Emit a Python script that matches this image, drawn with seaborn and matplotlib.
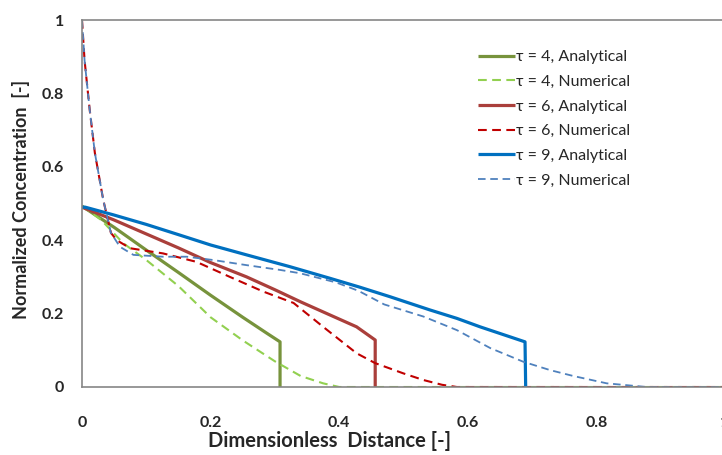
import matplotlib
matplotlib.use("Agg")
import matplotlib.pyplot as plt
import seaborn as sns
import numpy as np
from matplotlib.ticker import MultipleLocator

# ---------------- data ----------------
x4a = [0, 0.005, 0.05, 0.1, 0.15, 0.2, 0.25, 0.287, 0.308, 0.308]
y4a = [0.493, 0.487, 0.435, 0.373, 0.312, 0.25, 0.19, 0.147, 0.123, 0]

x4n = [0, 0.03, 0.064, 0.1, 0.15, 0.2, 0.25, 0.3, 0.34, 0.375, 0.4, 1.0]
y4n = [0.493, 0.455, 0.392, 0.346, 0.275, 0.19, 0.127, 0.07, 0.03, 0.01, 0, 0]

x6a = [0, 0.05, 0.1, 0.15, 0.2, 0.256, 0.3, 0.34, 0.386, 0.427, 0.456, 0.456]
y6a = [0.49, 0.455, 0.417, 0.379, 0.339, 0.30, 0.265, 0.232, 0.196, 0.164, 0.128, 0]

x6n = [0, 0.004, 0.012, 0.02, 0.033, 0.045, 0.054, 0.075, 0.126, 0.178, 0.23,
       0.282, 0.329, 0.375, 0.427, 0.456, 0.5, 0.531, 0.56, 0.583, 1.0]
y6n = [1.0, 0.89, 0.755, 0.638, 0.51, 0.42, 0.40, 0.378, 0.364, 0.341, 0.30,
       0.26, 0.229, 0.164, 0.092, 0.065, 0.037, 0.019, 0.006, 0, 0]

x9a = [0, 0.005, 0.049, 0.1, 0.152, 0.2, 0.256, 0.323, 0.386, 0.432, 0.479,
       0.541, 0.583, 0.619, 0.689, 0.69]
y9a = [0.49, 0.49, 0.469, 0.443, 0.414, 0.387, 0.36, 0.328, 0.296, 0.272, 0.246,
       0.21, 0.187, 0.164, 0.123, 0]

x9n = [0, 0.004, 0.012, 0.02, 0.033, 0.045, 0.059, 0.08, 0.126, 0.163, 0.204,
       0.256, 0.308, 0.339, 0.395, 0.43, 0.47, 0.531, 0.583, 0.635, 0.686,
       0.728, 0.764, 0.816, 0.878, 1.0]
y9n = [1.0, 0.89, 0.755, 0.638, 0.51, 0.42, 0.382, 0.36, 0.355, 0.355, 0.346,
       0.332, 0.319, 0.31, 0.285, 0.262, 0.225, 0.192, 0.155, 0.106, 0.069,
       0.046, 0.03, 0.01, 0, 0]

labels = ["τ = 4, Analytical", "τ = 4, Numerical",
          "τ = 6, Analytical", "τ = 6, Numerical",
          "τ = 9, Analytical", "τ = 9, Numerical"]

x_ticks = [0, 0.2, 0.4, 0.6, 0.8, 1.0]
x_tick_labels = ["0", "0.2", "0.4", "0.6", "0.8", "1"]
y_ticks = [0, 0.2, 0.4, 0.6, 0.8, 1.0]
y_tick_labels = ["0", "0.2", "0.4", "0.6", "0.8", "1"]

# ---------------- style ----------------
sns.set_style("white")
plt.rcParams['font.family'] = ['Lato', 'DejaVu Sans']

fig = plt.figure(figsize=(7.22, 4.55), dpi=100)
ax = fig.add_axes([82/722, 1-387/455, 643/722, 367/455])

series = [
    (x4a, y4a, "#77933C", "-", 2.3, labels[0]),
    (x4n, y4n, "#92D050", "--", 1.5, labels[1]),
    (x6a, y6a, "#AA3F3B", "-", 2.3, labels[2]),
    (x6n, y6n, "#C00000", "--", 1.5, labels[3]),
    (x9a, y9a, "#0070C0", "-", 2.3, labels[4]),
    (x9n, y9n, "#4F81BD", "--", 1.3, labels[5]),
]

for xs, ys, col, ls, lw, lab in series:
    sns.lineplot(x=xs, y=ys, ax=ax, color=col, linewidth=lw, sort=False,
                 estimator=None, label=lab)
    line = ax.get_lines()[-1]
    if ls == "--":
        line.set_dashes((4.2, 2.6))
    line.set_solid_capstyle("butt")

ax.set_xlim(0, 1)
ax.set_ylim(0, 1)

ax.set_xticks(x_ticks, labels=x_tick_labels, fontweight='bold', fontsize=11.5)
ax.set_yticks(y_ticks, labels=y_tick_labels, fontweight='bold', fontsize=11.5)
ax.xaxis.set_minor_locator(MultipleLocator(0.04))
ax.yaxis.set_minor_locator(MultipleLocator(0.05))

spine_col = "#868686"
for s in ax.spines.values():
    s.set_color(spine_col)
    s.set_linewidth(1.2)

ax.tick_params(axis='both', which='both', direction='in', color=spine_col,
               width=1, length=4, top=False, right=False)
ax.tick_params(axis='x', which='major', pad=21)
ax.tick_params(axis='y', which='major', pad=13)

ax.set_xlabel("Dimensionless  Distance [-]", fontsize=14.5, fontweight='bold')
ax.set_ylabel("Normalized Concentration  [-]", fontsize=13, fontweight='bold')
ax.xaxis.set_label_coords((330-82)/643, -(441-387)/367)
ax.yaxis.set_label_coords(-(82-21)/643, 0.51)
ax.xaxis.label.set_verticalalignment('center')
ax.yaxis.label.set_verticalalignment('center')

ax.legend(loc='upper left', bbox_to_anchor=(478/722, 1-50/455),
          bbox_transform=fig.transFigure, frameon=False, fontsize=11.5,
          borderpad=0, borderaxespad=0, handlelength=2.3, handletextpad=0.05,
          labelspacing=0.66)

fig.savefig("out.png", dpi=100)
